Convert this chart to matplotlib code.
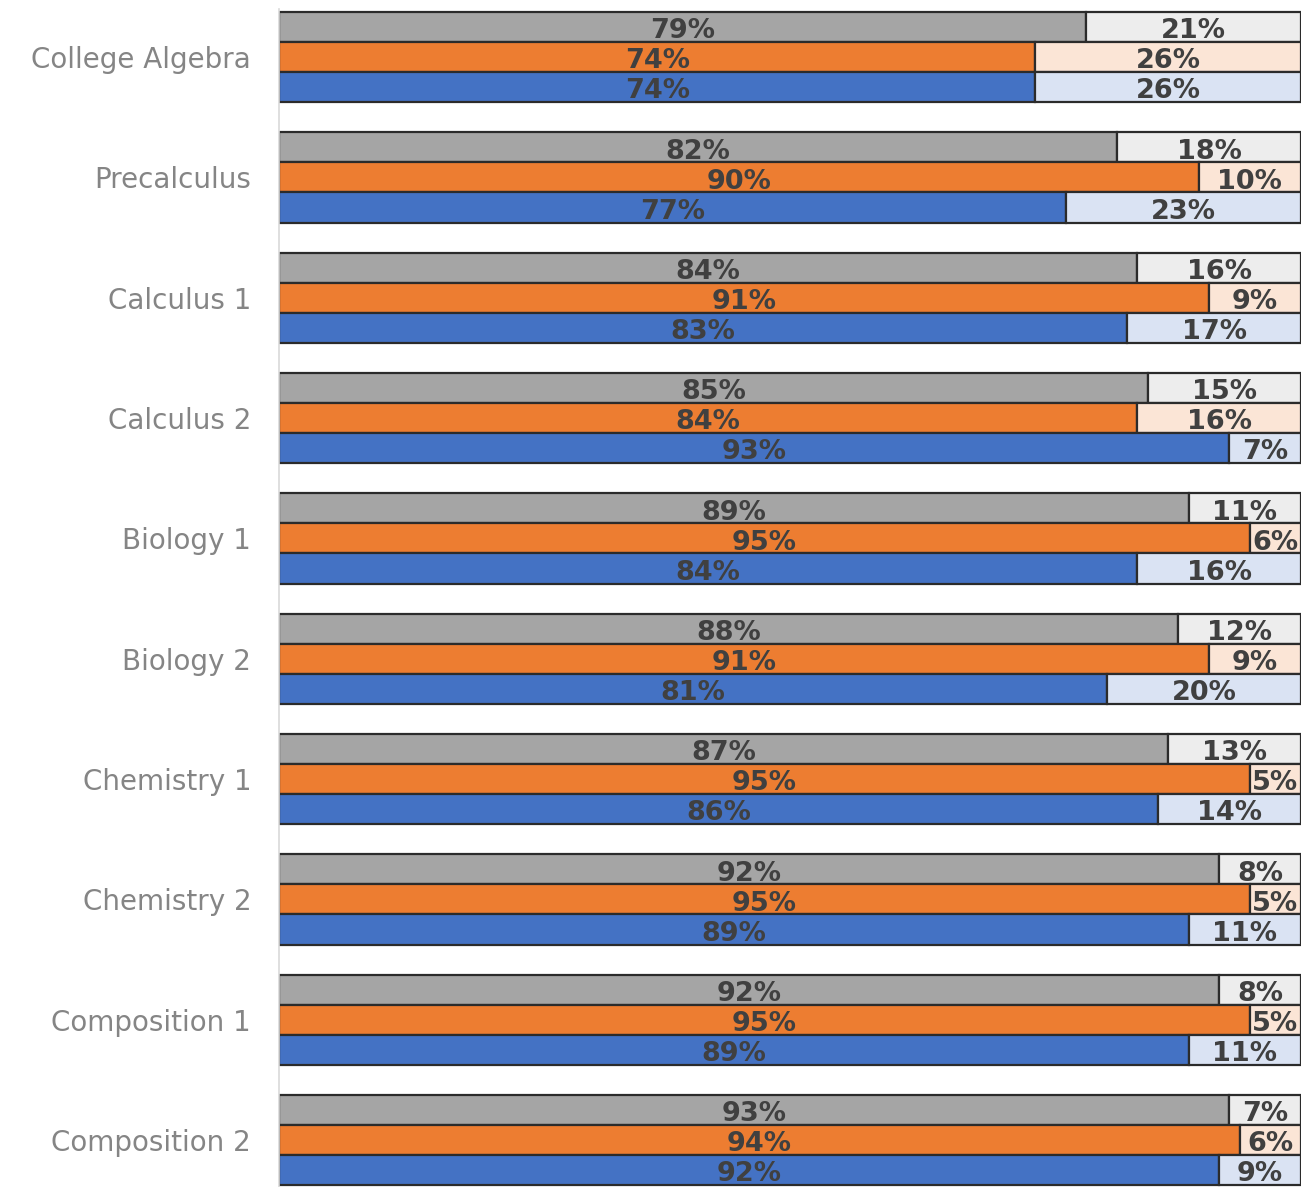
import matplotlib.pyplot as plt
import numpy as np

courses = ['College Algebra', 'Precalculus', 'Calculus 1', 'Calculus 2', 'Biology 1',
           'Biology 2', 'Chemistry 1', 'Chemistry 2', 'Composition 1', 'Composition 2']

# pass rates per course for the three series (top to bottom in each group)
gray_pct = [79, 82, 84, 85, 89, 88, 87, 92, 92, 93]
orange_pct = [74, 90, 91, 84, 95, 91, 95, 95, 95, 94]
blue_pct = [74, 77, 83, 93, 84, 81, 86, 89, 89, 92]

# remainder labels as printed on the light segments
gray_rest = [21, 18, 16, 15, 11, 12, 13, 8, 8, 7]
orange_rest = [26, 10, 9, 16, 6, 9, 5, 5, 5, 6]
blue_rest = [26, 23, 17, 7, 16, 20, 14, 11, 11, 9]

series = [
    (gray_pct, gray_rest, '#a5a5a5', '#ededed'),
    (orange_pct, orange_rest, '#ed7d31', '#fbe5d6'),
    (blue_pct, blue_rest, '#4472c4', '#dae3f3'),
]

fig = plt.figure(figsize=(13.06, 11.87), dpi=100)
ax = fig.add_axes([279 / 1306, 0, 1022 / 1306, 1178 / 1187])

y = np.arange(len(courses))
h = 0.25
edge = '#2b2b2b'
txt = '#404040'

for k, (vals, rest, dark, light) in enumerate(series):
    vals = np.array(vals, dtype=float)
    pos = y + (k - 1) * h
    ax.barh(pos, vals, height=h, color=dark, edgecolor=edge, linewidth=1.6)
    ax.barh(pos, 100 - vals, left=vals, height=h, color=light, edgecolor=edge, linewidth=1.6)
    for p, v, r in zip(pos, vals, rest):
        ax.text(v / 2, p + 0.035, f'{v:.0f}%', ha='center', va='center',
                fontsize=19.5, fontweight='bold', color=txt)
        ax.text(v + (100 - v) / 2, p + 0.035, f'{r}%', ha='center', va='center',
                fontsize=19.5, fontweight='bold', color=txt)

ax.set_xlim(0, 100)
ax.set_ylim(9.39, -0.4)
ax.set_yticks(y)
ax.set_yticklabels(courses, fontsize=20, color='#858585')
ax.tick_params(axis='y', length=0, pad=20)
ax.set_xticks([])
for s in ['top', 'right', 'bottom']:
    ax.spines[s].set_visible(False)
ax.spines['left'].set_color('#d9d9d9')
ax.spines['left'].set_linewidth(1.2)

fig.savefig('out.png', dpi=100)
